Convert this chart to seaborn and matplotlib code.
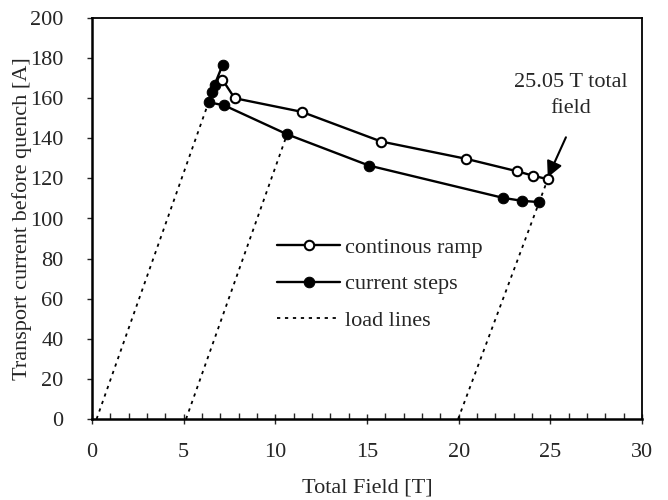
import matplotlib
matplotlib.use("Agg")
import matplotlib.pyplot as plt
from matplotlib.ticker import MultipleLocator
import seaborn as sns
import pandas as pd

# ---- data ----
ramp_field = [7.11, 7.78, 11.44, 15.77, 20.39, 23.17, 24.08, 24.86]
ramp_current = [169.3, 160.0, 153.2, 138.4, 129.8, 123.6, 121.3, 119.6]

steps_field = [7.12, 6.69, 6.57, 6.36, 7.22, 10.64, 15.11, 22.42, 23.47, 24.37]
steps_current = [176.5, 166.8, 163.0, 158.0, 156.4, 142.0, 126.4, 110.3, 108.8, 108.2]

load1_field = [0.25, 6.36]
load1_current = [0.0, 158.0]
load2_field = [5.13, 10.64]
load2_current = [0.0, 142.0]
load3_field = [19.97, 24.86]
load3_current = [0.0, 119.6]

x_ticks = [0, 5, 10, 15, 20, 25, 30]
y_ticks = [0, 20, 40, 60, 80, 100, 120, 140, 160, 180, 200]

annot_text = "25.05 T total\nfield"
annot_tip = (24.86, 120.5)
annot_tail = (25.85, 140.5)
annot_pos = (26.1, 161.5)

sns.set_style("ticks")
plt.rcParams["font.family"] = ["Liberation Serif", "DejaVu Serif"]

fig = plt.figure(figsize=(6.68, 5.0), dpi=100)
ax = fig.add_axes([92 / 668, 81 / 500, 550 / 668, 401 / 500])

FS = 16

for i, (lx, ly) in enumerate([(load1_field, load1_current),
                              (load2_field, load2_current),
                              (load3_field, load3_current)]):
    d = pd.DataFrame({"x": lx, "y": ly})
    sns.lineplot(data=d, x="x", y="y", ax=ax, sort=False, estimator=None,
                 color="black", lw=1.3, linestyle=(0, (1.8, 2.6)),
                 label="load lines" if i == 0 else None, zorder=2)

d_ramp = pd.DataFrame({"x": ramp_field, "y": ramp_current})
d_steps = pd.DataFrame({"x": steps_field, "y": steps_current})

sns.lineplot(data=d_ramp, x="x", y="y", ax=ax, sort=False, estimator=None,
             color="black", lw=1.7, marker="o", markersize=6.8,
             markerfacecolor="white", markeredgecolor="black", markeredgewidth=1.5,
             label="continous ramp", zorder=4)
sns.lineplot(data=d_steps, x="x", y="y", ax=ax, sort=False, estimator=None,
             color="black", lw=1.7, marker="o", markersize=7.6,
             markerfacecolor="black", markeredgecolor="black",
             label="current steps", zorder=3)

ax.set_xlim(0, 30)
ax.set_ylim(0, 200)
ax.set_xticks(x_ticks)
ax.set_yticks(y_ticks)
ax.xaxis.set_minor_locator(MultipleLocator(1))
ax.tick_params(axis="x", which="major", direction="inout", length=7, width=1,
               labelsize=FS, pad=14)
ax.tick_params(axis="x", which="minor", direction="in", length=4, width=1)
ax.tick_params(axis="y", which="major", direction="out", length=3.5, width=1,
               labelsize=FS, pad=17)
for s in ax.spines.values():
    s.set_visible(True)
    s.set_linewidth(1.3)
    s.set_color("black")
ax.spines["left"].set_linewidth(1.8)
ax.spines["bottom"].set_linewidth(1.8)

ax.set_xlabel("Total Field [T]", fontsize=FS, labelpad=12)
ax.set_ylabel("Transport current before quench [A]", fontsize=FS)
ax.yaxis.set_label_coords(-0.109, 0.5)

ax.text(annot_pos[0], annot_pos[1], annot_text, ha="center", va="center",
        fontsize=FS, linespacing=1.5)
ax.annotate("", xy=annot_tip, xytext=annot_tail,
            arrowprops=dict(arrowstyle="-|>", color="black", lw=1.5,
                            mutation_scale=24, shrinkA=0, shrinkB=0))

handles, labels = ax.get_legend_handles_labels()
order = [labels.index("continous ramp"), labels.index("current steps"),
         labels.index("load lines")]
ax.legend([handles[k] for k in order], [labels[k] for k in order],
          loc="upper left", bbox_to_anchor=(0.316, 0.481), frameon=False,
          fontsize=FS, handlelength=2.85, handletextpad=0.2, labelspacing=0.72,
          borderpad=0)

fig.savefig("out.png", dpi=100)
